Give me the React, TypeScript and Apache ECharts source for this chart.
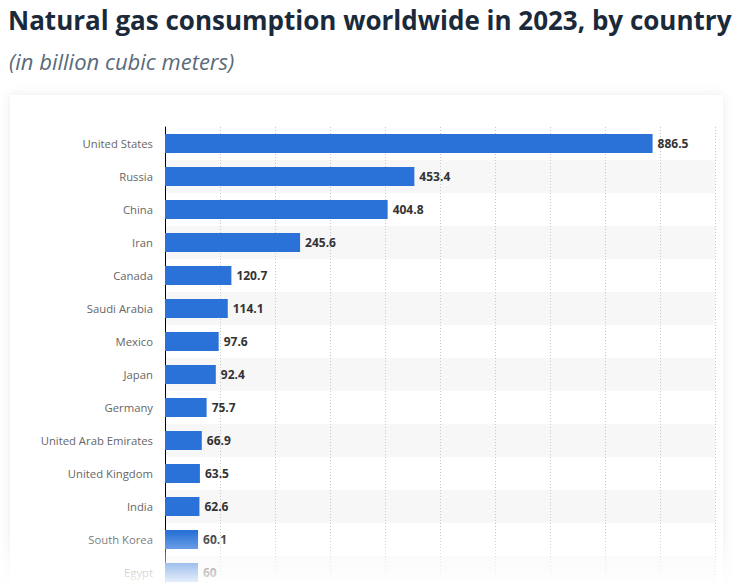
import React, { useEffect, useRef } from "react";
import * as echarts from "echarts";

const countries = [
  "United States",
  "Russia",
  "China",
  "Iran",
  "Canada",
  "Saudi Arabia",
  "Mexico",
  "Japan",
  "Germany",
  "United Arab Emirates",
  "United Kingdom",
  "India",
  "South Korea",
  "Egypt",
];
const consumption = [886.5, 453.4, 404.8, 245.6, 120.7, 114.1, 97.6, 92.4, 75.7, 66.9, 63.5, 62.6, 60.1, 60];

const titleText = "Natural gas consumption worldwide in 2023, by country";
const subtitleText = "(in billion cubic meters)";

export default function App() {
  const ref = useRef<HTMLDivElement>(null);
  useEffect(() => {
    document.body.style.margin = "0";
    const chart = echarts.init(ref.current!, null, { renderer: "svg" });
    chart.setOption({
      animation: false,
      backgroundColor: "#ffffff",
      title: [
        {
          text: titleText,
          left: 8,
          top: 7,
          padding: 0,
          textStyle: {
            fontFamily: "Open Sans",
            fontWeight: "bold",
            fontSize: 26,
            color: "#1b2a3b",
          },
        },
        {
          text: subtitleText,
          left: 9,
          top: 50,
          padding: 0,
          textStyle: {
            fontFamily: "Open Sans",
            fontStyle: "italic",
            fontWeight: "normal",
            fontSize: 22,
            color: "#5a6a7a",
          },
        },
      ],
      graphic: [
        {
          type: "rect",
          z: -10,
          shape: { x: 10, y: 95, width: 713, height: 520 },
          style: {
            fill: "#ffffff",
            shadowBlur: 12,
            shadowColor: "rgba(0,0,0,0.08)",
            shadowOffsetY: 0,
          },
        },
        {
          type: "rect",
          z: 100,
          shape: { x: 0, y: 532, width: 737, height: 51 },
          style: {
            fill: new echarts.graphic.LinearGradient(0, 0, 0, 1, [
              { offset: 0, color: "rgba(255,255,255,0)" },
              { offset: 1, color: "rgba(255,255,255,0.9)" },
            ]),
          },
        },
        {
          type: "rect",
          z: 100,
          shape: { x: 0, y: 583, width: 737, height: 40 },
          style: { fill: "rgba(255,255,255,0.9)" },
        },
      ],
      grid: { left: 165, top: 127, width: 550, height: 462 },
      xAxis: {
        type: "value",
        min: 0,
        max: 1000,
        interval: 100,
        axisLabel: { show: false },
        axisLine: { show: false },
        axisTick: { show: false },
        splitLine: { show: true, lineStyle: { type: [1, 2], color: "#c8c8c8", width: 1 } },
      },
      yAxis: {
        type: "category",
        data: countries,
        inverse: true,
        axisLine: { show: true, lineStyle: { color: "#000000", width: 1 } },
        axisTick: { show: false },
        axisLabel: {
          color: "#666666",
          fontSize: 11.3,
          fontFamily: "Open Sans",
          margin: 12,
        },
        splitArea: { show: true, areaStyle: { color: ["#ffffff", "#f7f7f7"] } },
      },
      series: [
        {
          type: "bar",
          data: consumption,
          barWidth: 19,
          itemStyle: { color: "#2a72d8" },
          label: {
            show: true,
            position: "right",
            distance: 5,
            color: "#333333",
            fontSize: 12,
            fontWeight: "bold",
            fontFamily: "Open Sans",
          },
        },
      ],
    });
    return () => chart.dispose();
  }, []);
  return (
    <div style={{ position: "fixed", left: 0, top: 0, width: 737, height: 583, overflow: "hidden" }}>
      <div ref={ref} style={{ width: 737, height: 620 }} />
    </div>
  );
}
